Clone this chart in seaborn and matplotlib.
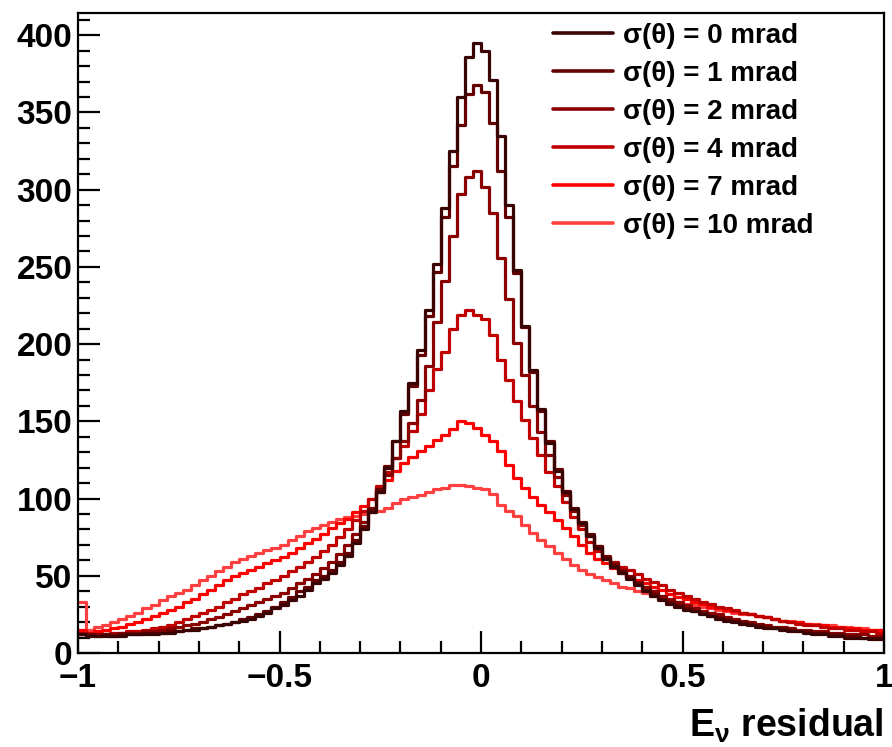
import numpy as np
import pandas as pd
import matplotlib
matplotlib.use("Agg")
import matplotlib.pyplot as plt
from matplotlib.lines import Line2D
from matplotlib.ticker import MultipleLocator, FixedLocator, FixedFormatter
import seaborn as sns

# ---------------- data (counts per bin) ----------------
n_bins = 100
x_range = (-1.0, 1.0)
bin_edges = np.linspace(x_range[0], x_range[1], n_bins + 1)
bin_centers = 0.5 * (bin_edges[:-1] + bin_edges[1:])

sigma_labels = ["σ(θ) = 0 mrad", "σ(θ) = 1 mrad", "σ(θ) = 2 mrad",
                "σ(θ) = 4 mrad", "σ(θ) = 7 mrad", "σ(θ) = 10 mrad"]
line_colors = ["#3a0404", "#640000", "#8a0000", "#c00000", "#ff0000", "#ff4040"]

counts_s0 = [12, 11, 11, 11, 11, 11, 12, 12, 12, 12,
             13, 13, 14, 15, 15, 16, 17, 18, 19, 20,
             21, 22, 24, 26, 29, 31, 34, 37, 41, 45,
             48, 52, 57, 63, 71, 80, 91, 104, 120, 137,
             157, 175, 196, 222, 252, 288, 325, 360, 386, 395,
             390, 371, 335, 290, 248, 212, 183, 158, 136, 118,
             104, 93, 84, 76, 68, 61, 56, 52, 48, 44,
             40, 37, 34, 32, 30, 28, 27, 25, 24, 22,
             21, 20, 19, 18, 17, 16, 16, 15, 14, 14,
             13, 12, 12, 11, 11, 10, 10, 10, 9, 9]

counts_s1 = [12, 12, 11, 12, 11, 12, 12, 12, 13, 13,
             13, 14, 14, 15, 16, 16, 17, 18, 19, 20,
             22, 23, 25, 27, 30, 33, 36, 40, 43, 47,
             50, 54, 59, 65, 73, 82, 93, 106, 121, 137,
             155, 173, 193, 218, 247, 282, 315, 342, 362, 368,
             363, 343, 312, 282, 246, 211, 182, 157, 137, 119,
             105, 94, 85, 77, 69, 62, 57, 53, 49, 45,
             41, 38, 35, 33, 31, 29, 27, 26, 24, 23,
             22, 21, 20, 19, 18, 17, 16, 16, 15, 14,
             14, 13, 13, 12, 12, 11, 11, 10, 10, 10]

counts_s2 = [12, 12, 12, 12, 12, 13, 13, 13, 14, 14,
             15, 16, 17, 18, 19, 20, 22, 23, 25, 27,
             29, 31, 33, 35, 37, 39, 42, 45, 48, 51,
             55, 59, 64, 70, 77, 85, 94, 104, 115, 126,
             137, 149, 164, 186, 214, 241, 270, 297, 308, 312,
             302, 285, 256, 229, 201, 180, 160, 143, 128, 114,
             102, 92, 83, 76, 69, 63, 58, 54, 50, 46,
             43, 40, 37, 35, 33, 31, 29, 27, 26, 25,
             23, 22, 21, 20, 19, 18, 17, 17, 16, 15,
             15, 14, 14, 13, 13, 12, 12, 12, 11, 11]

counts_s4 = [13, 12, 12, 12, 13, 13, 14, 14, 15, 16,
             17, 18, 20, 22, 24, 26, 28, 30, 33, 35,
             38, 40, 42, 45, 47, 50, 53, 56, 59, 62,
             66, 70, 75, 80, 86, 92, 100, 108, 117, 126,
             134, 144, 155, 170, 184, 195, 210, 219, 222, 219,
             216, 206, 190, 177, 163, 151, 139, 128, 117, 108,
             98, 88, 80, 72, 66, 62, 59, 56, 54, 51,
             48, 46, 44, 41, 39, 37, 35, 33, 32, 30,
             29, 28, 26, 25, 24, 23, 22, 21, 20, 19,
             18, 18, 17, 16, 16, 15, 15, 14, 14, 13]

counts_s7 = [15, 13, 14, 15, 16, 17, 19, 20, 22, 24,
             26, 28, 30, 33, 35, 38, 41, 44, 47, 50,
             52, 54, 56, 58, 60, 62, 65, 68, 71, 74,
             77, 81, 84, 87, 91, 95, 100, 106, 112, 118,
             123, 127, 131, 134, 138, 141, 145, 150, 149, 146,
             141, 137, 131, 122, 113, 107, 101, 96, 91, 86,
             81, 76, 70, 65, 61, 58, 55, 52, 49, 47,
             45, 43, 41, 38, 36, 35, 33, 32, 30, 29,
             28, 27, 26, 25, 24, 23, 22, 21, 20, 20,
             19, 18, 18, 17, 17, 16, 16, 15, 15, 15]

counts_s10 = [33, 15, 17, 18, 20, 22, 24, 26, 29, 31,
              34, 37, 39, 41, 44, 47, 50, 53, 56, 59,
              61, 63, 65, 67, 68, 70, 73, 76, 79, 81,
              83, 85, 87, 88, 89, 90, 91, 92, 94, 97,
              100, 101, 102, 104, 106, 107, 109, 109, 108, 107,
              106, 103, 96, 92, 89, 83, 78, 73, 69, 65,
              61, 57, 54, 51, 49, 47, 45, 43, 42, 40,
              39, 37, 36, 34, 33, 32, 31, 30, 29, 28,
              27, 26, 25, 25, 24, 23, 22, 21, 21, 20,
              19, 19, 18, 18, 17, 17, 16, 16, 15, 15]

x_ticks = [-1, -0.5, 0, 0.5, 1]
x_tick_labels = ["\u22121", "\u22120.5", "0", "0.5", "1"]
y_ticks = [0, 50, 100, 150, 200, 250, 300, 350, 400]
y_tick_labels = ["0", "50", "100", "150", "200", "250", "300", "350", "400"]
x_title = r"$\mathbf{E_{\nu}}$ residual"

# ---------------- build long table ----------------
all_counts = [counts_s0, counts_s1, counts_s2, counts_s4, counts_s7, counts_s10]
frames = []
for lab, cnt in zip(sigma_labels, all_counts):
    frames.append(pd.DataFrame({"residual": bin_centers, "count": cnt, "sigma": lab}))
df = pd.concat(frames, ignore_index=True)

# ---------------- style ----------------
sns.set_style("white")
plt.rcParams["font.family"] = ["Liberation Sans", "DejaVu Sans"]
plt.rcParams["font.weight"] = "bold"
plt.rcParams["text.color"] = "black"
plt.rcParams["axes.labelcolor"] = "black"
plt.rcParams["xtick.color"] = "black"
plt.rcParams["ytick.color"] = "black"
plt.rcParams["mathtext.fontset"] = "custom"
plt.rcParams["mathtext.rm"] = "Liberation Sans"
plt.rcParams["mathtext.bf"] = "Liberation Sans:bold"
plt.rcParams["mathtext.it"] = "Liberation Sans:italic"
plt.rcParams["axes.unicode_minus"] = True

W, H = 892, 747
fig = plt.figure(figsize=(W / 100, H / 100), dpi=100)
ax = fig.add_axes([78 / W, 1 - 653 / H, (884 - 78) / W, (653 - 12.5) / H])

palette = dict(zip(sigma_labels, line_colors))
sns.histplot(data=df, x="residual", weights="count", hue="sigma",
             hue_order=sigma_labels, palette=palette, bins=n_bins, binrange=x_range,
             element="step", fill=False, linewidth=2.3, legend=False, ax=ax)

ax.set_xlim(-1, 1)
ax.set_ylim(0, 414.7)

ax.xaxis.set_major_locator(FixedLocator(x_ticks))
ax.xaxis.set_major_formatter(FixedFormatter(x_tick_labels))
ax.xaxis.set_minor_locator(MultipleLocator(0.1))
ax.yaxis.set_major_locator(FixedLocator(y_ticks))
ax.yaxis.set_major_formatter(FixedFormatter(y_tick_labels))
ax.yaxis.set_minor_locator(MultipleLocator(10))

ax.tick_params(which="both", direction="in", top=False, right=False,
               bottom=True, left=True, width=1.6, colors="black")
ax.tick_params(which="major", length=16, labelsize=24)
ax.tick_params(which="minor", length=8.5)
ax.tick_params(axis="y", which="major", pad=4)
ax.tick_params(axis="x", which="major", pad=7)
for lbl in ax.get_xticklabels() + ax.get_yticklabels():
    lbl.set_fontweight("bold")
    lbl.set_color("black")

for sp in ax.spines.values():
    sp.set_visible(True)
    sp.set_linewidth(1.6)
    sp.set_color("black")

ax.set_ylabel("")
ax.set_xlabel(x_title, loc="right", fontsize=27, fontweight="bold",
              labelpad=9, color="black")

handles = [Line2D([0], [0], color=c, lw=2.6) for c in line_colors]
leg = ax.legend(handles, sigma_labels, loc="upper left",
                bbox_to_anchor=(553 / W, 1 - 23 / H), bbox_transform=fig.transFigure,
                frameon=False, prop={"weight": "bold", "size": 20},
                handlelength=2.15, handletextpad=0.36, labelspacing=0.43,
                borderpad=0, borderaxespad=0)
for t in leg.get_texts():
    t.set_color("black")

fig.savefig("out.png", dpi=100)
